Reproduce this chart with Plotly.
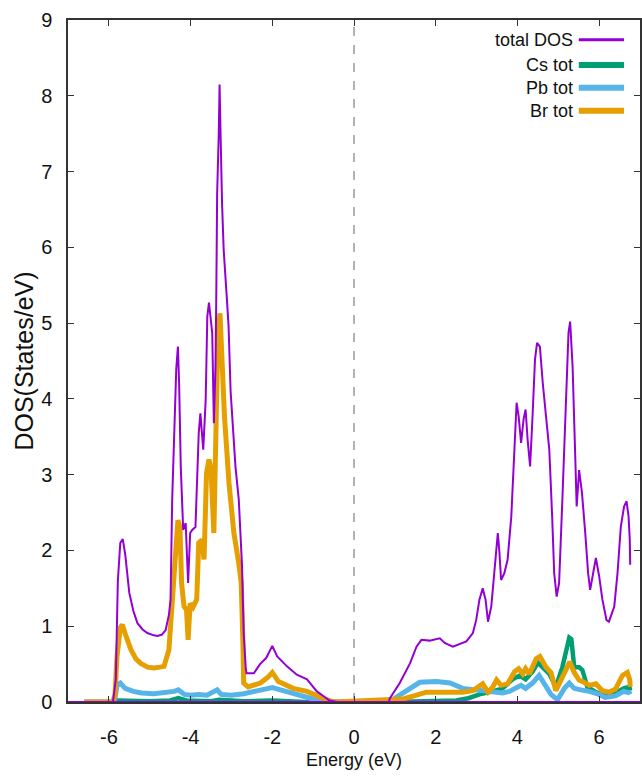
import plotly.graph_objects as go

# Total density of states (States/eV) vs energy (eV)
tot_e = [-7.0, -5.9, -5.83, -5.78, -5.72, -5.66, -5.6, -5.5, -5.4, -5.3, -5.18, -5.06, -4.9, -4.81,
         -4.7, -4.61, -4.53, -4.49, -4.45, -4.4, -4.35, -4.31, -4.28, -4.24, -4.18, -4.12, -4.06,
         -4.01, -3.96, -3.88, -3.8, -3.76, -3.69, -3.63, -3.59, -3.55, -3.51, -3.47, -3.43, -3.39,
         -3.37, -3.35, -3.31, -3.29, -3.27, -3.25, -3.23, -3.19, -3.15, -3.11, -3.07, -3.02, -2.9,
         -2.82, -2.74, -2.7, -2.65, -2.63, -2.45, -2.3, -2.15, -2.0, -1.88, -1.64, -1.4, -1.15,
         -1.03, -0.91, -0.75, -0.6, -0.4, 0.85, 0.88, 1.12, 1.37, 1.53, 1.65, 1.85, 2.1, 2.22,
         2.42, 2.75, 2.91, 2.99, 3.07, 3.15, 3.22, 3.28, 3.36, 3.44, 3.52, 3.56, 3.6, 3.68, 3.76,
         3.85, 3.93, 3.98, 4.03, 4.09, 4.15, 4.2, 4.25, 4.31, 4.37, 4.43, 4.48, 4.55, 4.62, 4.7,
         4.78, 4.85, 4.9, 4.96, 5.02, 5.1, 5.19, 5.25, 5.29, 5.35, 5.41, 5.45, 5.51, 5.58, 5.66,
         5.73, 5.78, 5.85, 5.92, 6.0, 6.08, 6.18, 6.24, 6.37, 6.45, 6.53, 6.61, 6.67, 6.72, 6.75,
         6.76]
tot_dos = [0.0, 0.0, 0.3, 1.6, 2.1, 2.15, 1.95, 1.44, 1.2, 1.04, 0.96, 0.91, 0.88, 0.87,
           0.89, 0.95, 1.15, 1.35, 2.67, 3.6, 4.4, 4.69, 4.2, 3.1, 2.27, 2.36, 1.57,
           2.23, 2.27, 2.31, 3.55, 3.81, 3.33, 3.99, 5.09, 5.27, 5.1, 4.87, 3.68, 4.43,
           5.4, 6.7, 7.5, 8.15, 7.6, 6.9, 6.59, 5.97, 5.7, 5.31, 4.96, 4.1, 3.1,
           2.67, 1.79, 0.91, 0.45, 0.38, 0.38, 0.5, 0.58, 0.74, 0.6, 0.47, 0.36, 0.3,
           0.22, 0.14, 0.08, 0.02, 0.0, 0.0, 0.05, 0.25, 0.51, 0.73, 0.82, 0.81, 0.84, 0.78,
           0.73, 0.8, 0.91, 1.08, 1.35, 1.5, 1.35, 1.06, 1.26, 1.79, 2.23, 1.97, 1.61, 1.7, 1.88,
           2.45, 3.33, 3.95, 3.77, 3.42, 3.73, 3.86, 3.46, 3.11, 3.77, 4.52, 4.74, 4.69, 4.21, 3.77,
           3.33, 2.45, 1.7, 1.39, 1.57, 2.67, 3.99, 4.87, 5.02, 4.43, 3.33, 2.58, 3.06, 2.76, 2.23,
           1.7, 1.48, 1.7, 1.9, 1.66, 1.35, 1.08, 1.06, 1.26, 1.7, 2.31, 2.58, 2.65, 2.45, 2.14,
           1.81]

# Cs projected DOS
cs_e = [-6.6, -5.9, -5.8, -5.0, -4.5, -4.3, -4.1, -3.5, -3.3, -2.7, -2.0, -1.2, 0.9, 2.5, 2.8,
        3.07, 3.4, 3.64, 3.88, 4.05, 4.2, 4.37, 4.5, 4.62, 4.78, 4.94, 5.1, 5.27, 5.32, 5.39,
        5.51, 5.59, 5.71, 5.92, 6.15, 6.4, 6.6, 6.74, 6.76]
cs_dos = [0.0, 0.0, 0.02, 0.01, 0.02, 0.05, 0.02, 0.01, 0.03, 0.01, 0.02, 0.0, 0.0, 0.02, 0.05,
          0.1, 0.14, 0.18, 0.3, 0.35, 0.3, 0.4, 0.52, 0.45, 0.37, 0.2, 0.46, 0.85, 0.83, 0.46,
          0.46, 0.42, 0.2, 0.13, 0.08, 0.12, 0.18, 0.2, 0.15]

# Pb projected DOS
pb_e = [-6.6, -5.9, -5.85, -5.8, -5.72, -5.6, -5.4, -5.2, -4.9, -4.6, -4.4, -4.3, -4.15, -4.0,
        -3.8, -3.6, -3.35, -3.25, -3.0, -2.7, -2.4, -2.2, -2.0, -1.8, -1.5, -1.2, -1.0, -0.8,
        0.9, 1.0, 1.37, 1.61, 2.02, 2.35, 2.66, 3.07, 3.4, 3.64, 3.8, 3.97, 4.09, 4.2, 4.37,
        4.53, 4.7, 4.82, 4.98, 5.15, 5.27, 5.39, 5.55, 5.76, 6.0, 6.15, 6.4, 6.6, 6.74, 6.76]
pb_dos = [0.0, 0.0, 0.05, 0.22, 0.25, 0.18, 0.14, 0.12, 0.11, 0.12, 0.14, 0.16, 0.1, 0.09,
          0.1, 0.09, 0.16, 0.1, 0.09, 0.11, 0.15, 0.17, 0.19, 0.16, 0.12, 0.07, 0.04, 0.0,
          0.0, 0.05, 0.18, 0.26, 0.27, 0.25, 0.18, 0.15, 0.14, 0.12, 0.14, 0.18, 0.22, 0.18, 0.25,
          0.35, 0.22, 0.1, 0.03, 0.18, 0.25, 0.18, 0.16, 0.14, 0.1, 0.06, 0.08, 0.14, 0.12, 0.1]

# Br projected DOS
br_e = [-6.6, -5.9, -5.85, -5.8, -5.72, -5.67, -5.6, -5.46, -5.34, -5.22, -5.05, -4.9, -4.75,
        -4.65, -4.53, -4.45, -4.37, -4.31, -4.26, -4.22, -4.16, -4.1, -4.06, -4.01, -3.94, -3.85,
        -3.8, -3.72, -3.67, -3.61, -3.55, -3.5, -3.43, -3.38, -3.33, -3.28, -3.23, -3.17, -3.06,
        -2.94, -2.82, -2.76, -2.72, -2.7, -2.59, -2.29, -2.1, -2.0, -1.85, -1.49, -1.15, -0.95,
        -0.67, -0.5, 0.9, 1.2, 1.53, 1.77, 2.18, 2.66, 2.91, 3.15, 3.28, 3.4, 3.49, 3.6, 3.76,
        3.93, 4.03, 4.13, 4.2, 4.29, 4.46, 4.55, 4.7, 4.82, 4.94, 5.06, 5.19, 5.28, 5.39, 5.51,
        5.63, 5.76, 5.92, 6.08, 6.24, 6.4, 6.57, 6.69, 6.75, 6.76]
br_dos = [0.0, 0.0, 0.1, 0.6, 0.98, 1.02, 0.9, 0.69, 0.57, 0.51, 0.46, 0.45, 0.46,
          0.47, 0.69, 1.35, 2.0, 2.4, 2.3, 1.57, 1.26, 1.22, 0.82, 1.3, 1.25, 1.35,
          2.1, 2.14, 1.88, 3.02, 3.2, 3.07, 2.23, 3.55, 4.87, 5.13, 4.43, 3.77, 2.89,
          2.23, 1.83, 1.57, 0.8, 0.25, 0.2, 0.25, 0.33, 0.39, 0.27, 0.18, 0.14, 0.09,
          0.03, 0.0, 0.02, 0.04, 0.09, 0.13, 0.13, 0.13, 0.15, 0.24, 0.13, 0.2, 0.29, 0.22, 0.24,
          0.4, 0.44, 0.37, 0.44, 0.37, 0.57, 0.6, 0.46, 0.39, 0.15, 0.29, 0.44, 0.53, 0.39, 0.29,
          0.26, 0.22, 0.24, 0.15, 0.13, 0.17, 0.35, 0.39, 0.29, 0.2]

x_ticks = [-6, -4, -2, 0, 2, 4, 6]
y_ticks = [0, 1, 2, 3, 4, 5, 6, 7, 8, 9]

series_names = ["total DOS", "Cs tot", "Pb tot", "Br tot"]
colors = ["#9400D3", "#009E73", "#56B4E9", "#E69F00"]
widths = [2, 4.5, 5, 5]
legend_widths = [3, 6, 6, 6]

FONT = "Liberation Sans, Arial, sans-serif"
INK = "#111111"

fig = go.Figure()
# projected DOS first, total DOS drawn on top
for name, xs, ys, c, w in [(series_names[1], cs_e, cs_dos, colors[1], widths[1]),
                           (series_names[2], pb_e, pb_dos, colors[2], widths[2]),
                           (series_names[3], br_e, br_dos, colors[3], widths[3]),
                           (series_names[0], tot_e, tot_dos, colors[0], widths[0])]:
    fig.add_trace(go.Scatter(x=xs, y=ys, mode="lines", name=name,
                             line=dict(color=c, width=w), showlegend=False))

# Fermi level
fig.add_shape(type="line", xref="x", yref="paper", x0=0, x1=0, y0=0, y1=1,
              line=dict(color="#999999", width=1.5, dash="dash"), layer="below")
# zero baseline
fig.add_shape(type="line", xref="paper", yref="y", x0=0, x1=1, y0=0, y1=0,
              line=dict(color=colors[0], width=2))

# legend: right-aligned labels with line samples on the right
legend_rows = [0.971, 0.934, 0.9005, 0.867]
for name, c, lw, yp in zip(series_names, colors, legend_widths, legend_rows):
    fig.add_annotation(xref="paper", yref="paper", x=0.887, y=yp, text=name,
                       showarrow=False, xanchor="right", yanchor="middle",
                       font=dict(family=FONT, size=18, color=INK))
    fig.add_shape(type="line", xref="paper", yref="paper", x0=0.893, x1=0.972,
                  y0=yp, y1=yp, line=dict(color=c, width=lw))

axis_common = dict(showline=True, mirror="ticks", linecolor="#333333", linewidth=1.5,
                   ticks="inside", ticklen=6, tickwidth=1.2, tickcolor="#333333",
                   showgrid=False, zeroline=False, automargin=False,
                   tickfont=dict(family=FONT, size=20, color=INK))

fig.update_layout(
    width=642, height=778,
    margin=dict(l=68, r=2, t=20, b=76),
    paper_bgcolor="white", plot_bgcolor="white",
    xaxis=dict(range=[-7, 7], tickvals=x_ticks, ticktext=[str(v) for v in x_ticks],
               ticklabelstandoff=16,
               title=dict(text="Energy (eV)", font=dict(family=FONT, size=18, color=INK),
                          standoff=7),
               **axis_common),
    yaxis=dict(range=[0, 9], tickvals=y_ticks, ticktext=[str(v) for v in y_ticks],
               ticklabelstandoff=10,
               title=dict(text="DOS(States/eV)",
                          font=dict(family=FONT, size=25, color=INK), standoff=0),
               **axis_common),
)

fig.write_html("out.html")
